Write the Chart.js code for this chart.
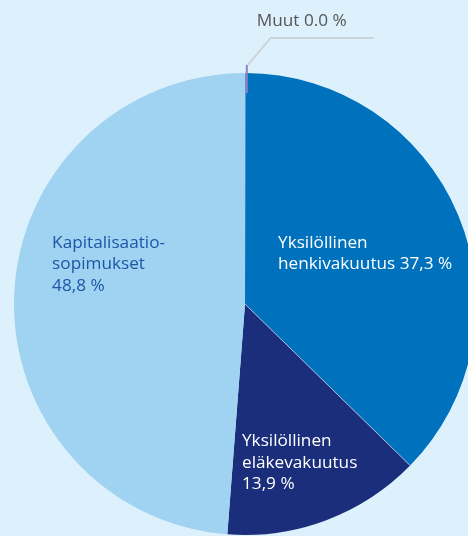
<!DOCTYPE html>
<html>
<head>
<meta charset="utf-8">
<script src="https://cdn.jsdelivr.net/npm/chart.js@4.4.0/dist/chart.umd.min.js"></script>
<style>
  html, body { margin: 0; padding: 0; background: #dcf1fc; overflow: hidden; }
  #wrap { position: absolute; left: 0; top: 0; width: 520px; height: 600px; }
</style>
</head>
<body>
<div id="wrap"><canvas id="pie"></canvas></div>
<script>
// data (clockwise from 12 o'clock)
const categories = ['Muut', 'Yksilöllinen henkivakuutus', 'Yksilöllinen eläkevakuutus', 'Kapitalisaatiosopimukset'];
const shares = [0.04, 37.3, 13.9, 48.8];
const shareLabels = ['Muut 0.0 %', '37,3 %', '13,9 %', '48,8 %'];
const labelLines = [
  ['Muut 0.0 %'],
  ['Yksilöllinen', 'henkivakuutus 37,3 %'],
  ['Yksilöllinen', 'eläkevakuutus', '13,9 %'],
  ['Kapitalisaatio-', 'sopimukset', '48,8 %']
];
const sliceColors = ['#8b80c6', '#0071bd', '#1b2e7b', '#9fd3f1'];

// label placement, in units of the pie radius from the centre
const labelPos = [null, [0.143, -0.265], [-0.013, 0.595], [-0.835, -0.265]];
const labelColors = ['#555555', '#ffffff', '#ffffff', '#1d56a6'];
const FONT = '17.2px "Open Sans", sans-serif';
const LINE_H = 21.5;

const sliceLabels = {
  id: 'sliceLabels',
  afterDatasetsDraw(chart) {
    const ctx = chart.ctx;
    const arcs = chart.getDatasetMeta(0).data;
    const cx = arcs[0].x, cy = arcs[0].y, r = arcs[0].outerRadius;
    ctx.save();

    // light seam between henkivakuutus and eläkevakuutus
    const a = arcs[1].endAngle;
    ctx.strokeStyle = 'rgba(255,255,255,0.55)';
    ctx.lineWidth = 1;
    ctx.beginPath();
    ctx.moveTo(cx, cy);
    ctx.lineTo(cx + Math.cos(a) * r, cy + Math.sin(a) * r);
    ctx.stroke();

    // leader for the tiny "Muut" slice
    const m = (arcs[0].startAngle + arcs[0].endAngle) / 2;
    const ox = cx + Math.cos(m) * r + 1.5, oy = cy + Math.sin(m) * r;
    const tipY = cy - r * 1.035;
    ctx.strokeStyle = sliceColors[0];
    ctx.lineWidth = 2;
    ctx.beginPath();
    ctx.moveTo(ox, oy + 20);
    ctx.lineTo(ox, tipY);
    ctx.stroke();
    ctx.strokeStyle = '#cdd3d7';
    ctx.beginPath();
    ctx.moveTo(ox + 1, tipY);
    ctx.lineTo(ox + 24, tipY - 27);
    ctx.lineTo(ox + 127, tipY - 27);
    ctx.stroke();

    ctx.font = FONT;
    ctx.textBaseline = 'middle';
    ctx.textAlign = 'left';
    ctx.fillStyle = labelColors[0];
    ctx.fillText(labelLines[0][0], ox + 10, tipY - 44);

    for (let i = 1; i < labelLines.length; i++) {
      const [fx, fy] = labelPos[i];
      ctx.fillStyle = labelColors[i];
      labelLines[i].forEach((t, k) => {
        ctx.fillText(t, cx + fx * r, cy + fy * r + k * LINE_H);
      });
    }
    ctx.restore();
  }
};

new Chart(document.getElementById('pie'), {
  type: 'pie',
  data: {
    labels: categories,
    datasets: [{
      data: shares,
      backgroundColor: sliceColors,
      borderWidth: 0,
      hoverOffset: 0,
      radius: 231
    }]
  },
  options: {
    responsive: true,
    maintainAspectRatio: false,
    animation: false,
    events: [],
    layout: { padding: { left: 0, right: 30, top: 8, bottom: 0 } },
    plugins: {
      legend: { display: false },
      tooltip: { enabled: false }
    }
  },
  plugins: [sliceLabels]
});
</script>
</body>
</html>
